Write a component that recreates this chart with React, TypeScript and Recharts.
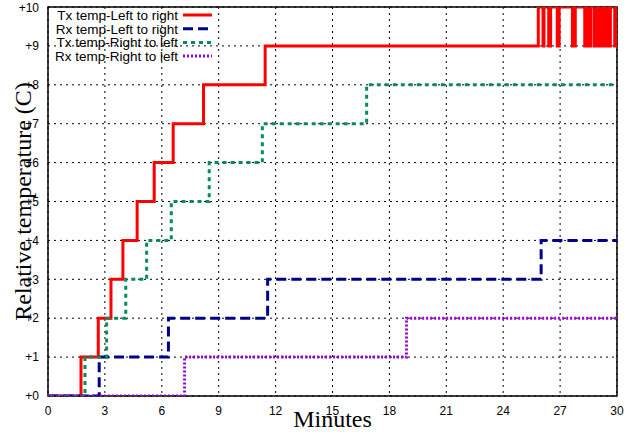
import React from 'react';
import {LineChart, Line, XAxis, YAxis, CartesianGrid, ReferenceArea, Label} from 'recharts';

// step points: [minute, relative temperature]
const txLeftToRight = [
    [0, 0], [1.74, 1], [2.65, 2], [3.32, 3], [3.95, 4], [4.7, 5], [5.6, 6], [6.6, 7], [8.2, 8], [11.45, 9],
    [25.85, 10], [26.1, 9], [26.15, 10], [26.4, 9], [26.5, 10], [26.85, 9], [26.95, 10], [27.65, 9], [27.8, 10],
    [28.3, 9], [28.4, 10], [28.55, 9], [28.62, 10], [28.8, 9], [28.9, 10], [29.05, 9], [29.15, 10], [29.3, 9],
    [29.4, 10], [29.55, 9], [29.65, 10], [29.88, 9], [29.95, 10], [30, 10],
];
const rxLeftToRight = [[0, 0], [2.7, 1], [6.35, 2], [11.58, 3], [26.0, 4], [30, 4]];
const txRightToLeft = [[0, 0], [1.95, 1], [3.09, 2], [4.1, 3], [5.2, 4], [6.5, 5], [8.5, 6], [11.3, 7], [16.8, 8], [30, 8]];
const rxRightToLeft = [[0, 0], [7.2, 1], [18.9, 2], [30, 2]];

const xTicks = [0, 3, 6, 9, 12, 15, 18, 21, 24, 27, 30];
const yTicks = [0, 1, 2, 3, 4, 5, 6, 7, 8, 9, 10];

const toRows = (pts) => pts.map(([t, v]) => ({t, v}));

const series = [
    {name: 'Tx temp-Left to right', pts: txLeftToRight, color: '#ff0000', dash: undefined},
    {name: 'Rx temp-Left to right', pts: rxLeftToRight, color: '#00008b', dash: '10 5'},
    {name: 'Tx temp-Right to left', pts: txRightToLeft, color: '#078a5c', dash: '4 4'},
    {name: 'Rx temp-Right to left', pts: rxRightToLeft, color: '#9400d3', dash: '2 2'},
];

// key box, drawn over the plot (top-left corner)
const KeyBox = () => (
    <svg width={170} height={60} style={{position: 'absolute', left: 50, top: 8}}>
        {series.map((s, i) => (
            <g key={s.name}>
                <text x={128} y={12 + i * 13.7} textAnchor="end" fontSize={13.5}
                      fontFamily="Liberation Sans, Arial, sans-serif" fill="#000">{s.name}</text>
                <line x1={133} x2={162} y1={7 + i * 13.7} y2={7 + i * 13.7}
                      stroke={s.color} strokeWidth={3} strokeDasharray={s.dash}/>
            </g>
        ))}
    </svg>
);

const tickFont = {fontSize: 12, fill: '#000', fontFamily: 'Liberation Sans, Arial, sans-serif'};
const serif = 'Liberation Serif, Times New Roman, serif';

export default function App() {
    return (
        <div style={{position: 'absolute', left: 0, top: 0, background: '#fff'}}>
            <LineChart width={633} height={432} margin={{top: 7, right: 16, left: 0, bottom: 0}}>
                <CartesianGrid stroke="#000" strokeDasharray="2 4" strokeWidth={1}/>
                <XAxis type="number" dataKey="t" domain={[0, 30]} ticks={xTicks} allowDataOverflow
                       height={36} tick={tickFont} tickLine={false} axisLine={false} tickMargin={4}>
                    <Label value="Minutes" position="insideBottom" offset={5}
                           style={{fontSize: 24, fill: '#000', fontFamily: serif}}/>
                </XAxis>
                <YAxis type="number" dataKey="v" domain={[0, 10]} ticks={yTicks} allowDataOverflow
                       width={48} tick={tickFont} tickLine={false} axisLine={false} tickMargin={3}
                       tickFormatter={(v) => `+${v}`}>
                    <Label value="Relative temperature (C)" angle={-90} position="insideLeft" offset={22}
                           style={{textAnchor: 'middle', fontSize: 24, fill: '#000', fontFamily: serif}}/>
                </YAxis>
                <ReferenceArea x1={0} x2={30} y1={0} y2={10} fill="none" stroke="#000" strokeWidth={1.5} strokeOpacity={1}/>
                {series.map((s) => (
                    <Line key={s.name} name={s.name} data={toRows(s.pts)} dataKey="v" type="stepAfter"
                          stroke={s.color} strokeWidth={3} strokeDasharray={s.dash}
                          dot={false} activeDot={false} isAnimationActive={false}/>
                ))}
            </LineChart>
            <KeyBox/>
        </div>
    );
}
